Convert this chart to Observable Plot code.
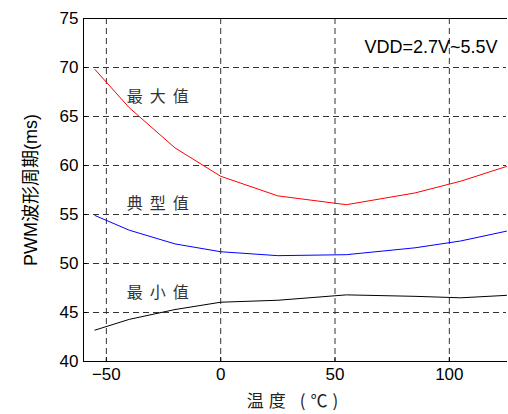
<!DOCTYPE html>
<html>
<head>
<meta charset="utf-8">
<script src="https://cdn.jsdelivr.net/npm/d3@7"></script>
<script src="https://cdn.jsdelivr.net/npm/@observablehq/plot@0.6"></script>
<style>
  body { margin: 0; background: #fff; }
  #chart svg { display: block; }
</style>
</head>
<body>
<div id="chart"></div>
<script>
const temps = [-55, -40, -20, 0, 25, 55, 85, 105, 125];
const maxVals = [69.8, 65.9, 61.8, 58.9, 56.9, 56.0, 57.2, 58.4, 59.9];
const typVals = [54.9, 53.4, 52.0, 51.2, 50.8, 50.9, 51.6, 52.3, 53.3];
const minVals = [43.2, 44.3, 45.3, 46.05, 46.25, 46.8, 46.65, 46.5, 46.75];
const xTicks = [-50, 0, 50, 100];
const yTicks = [40, 45, 50, 55, 60, 65, 70, 75];
const seriesNames = ["最大值", "典型值", "最小值"];
const labelX = [-26, -26, -26];
const labelY = [67.0, 56.1, 47.05];
const seriesColors = ["#ff0000", "#0000ff", "#000000"];

const seriesVals = [maxVals, typVals, minVals];
const rows = seriesNames.flatMap((s, i) => temps.map((t, j) => ({series: s, t, v: seriesVals[i][j]})));
const labels = seriesNames.map((s, i) => ({s, x: labelX[i], y: labelY[i]}));

const font = "'Liberation Sans', Arial, 'Noto Sans CJK SC', sans-serif";
const cjk = "'Noto Sans CJK SC', sans-serif";

const plot = Plot.plot({
  width: 508,
  height: 414,
  marginLeft: 83,
  marginRight: 2,
  marginTop: 18,
  marginBottom: 53,
  style: {fontFamily: font, fontSize: "17px", background: "#fff", color: "#000"},
  x: {type: "linear", domain: [-60, 125]},
  y: {type: "linear", domain: [40, 75]},
  color: {domain: seriesNames, range: seriesColors},
  marks: [
    Plot.ruleX(xTicks, {stroke: "#333", strokeWidth: 1, strokeDasharray: "6,4"}),
    Plot.ruleY(yTicks.slice(1, -1), {stroke: "#333", strokeWidth: 1, strokeDasharray: "6,4"}),
    Plot.axisY(yTicks, {tickSize: -4, tickPadding: 9, fontSize: 17, label: null}),
    Plot.axisX(xTicks, {tickSize: -4, tickPadding: 10, fontSize: 17, label: null}),
    Plot.frame({anchor: "left", stroke: "#000"}),
    Plot.frame({anchor: "bottom", stroke: "#000"}),
    Plot.frame({anchor: "top", stroke: "#000"}),
    Plot.line(rows, {x: "t", y: "v", z: "series", stroke: "series", strokeWidth: 1}),
    Plot.text(labels, {x: "x", y: "y", text: "s", fontFamily: cjk, fontSize: 16, fill: "#333", className: "anno"}),
    Plot.text(["VDD=2.7V~5.5V"], {frameAnchor: "top-right", dx: -9, dy: 29, textAnchor: "end", lineAnchor: "middle", fontSize: 18, fill: "#000"}),
    Plot.text(["温度 (℃)"], {frameAnchor: "bottom", dy: 40, textAnchor: "middle", lineAnchor: "middle", fontFamily: cjk, fontSize: 17, fill: "#222", className: "xlab"}),
    Plot.text(["PWM波形周期(ms)"], {frameAnchor: "left", dx: -52, rotate: -90, textAnchor: "middle", lineAnchor: "middle", fontSize: 18, fill: "#000"})
  ]
});
document.getElementById("chart").appendChild(plot);
plot.querySelectorAll(".anno text").forEach(t => t.setAttribute("letter-spacing", "7"));
plot.querySelectorAll(".xlab text").forEach(t => t.setAttribute("letter-spacing", "5"));
</script>
</body>
</html>
